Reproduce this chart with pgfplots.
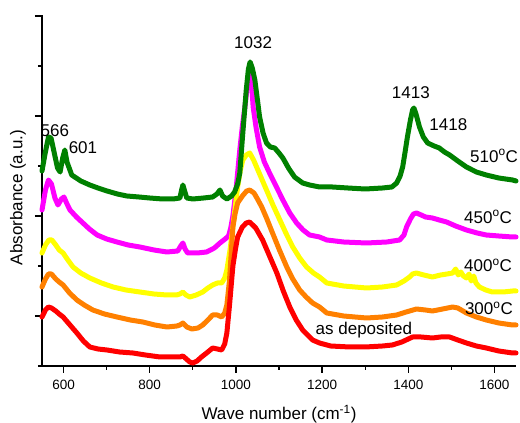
\documentclass[border=0pt]{standalone}
\usepackage{pgfplots}
\pgfplotsset{compat=1.18}
\usepackage{fontspec}
\setmainfont{Liberation Sans}

\definecolor{c510}{RGB}{0,128,0}
\definecolor{c450}{RGB}{255,0,255}
\definecolor{c400}{RGB}{255,255,0}
\definecolor{c300}{RGB}{255,128,0}
\definecolor{cdep}{RGB}{255,0,0}

\newcommand{\lbl}{\fontsize{17}{20}\selectfont}

\begin{document}
\begin{tikzpicture}
\path[use as bounding box] (-42pt,-57pt) rectangle (478pt,366pt);
\begin{axis}[
  at={(0pt,0pt)}, anchor=south west,
  scale only axis, width=474pt, height=351pt,
  xmin=550, xmax=1650, ymin=0, ymax=351,
  axis lines*=left,
  axis line style={line width=1.4pt, -},
  tick align=outside,
  major tick length=7pt, minor tick length=4pt,
  every tick/.style={line width=1.2pt, black},
  xtick={600,800,...,1600},
  minor xtick={700,900,...,1500},
  ytick={50,150,250,350},
  minor ytick={0,100,200,300},
  yticklabels={},
  /pgf/number format/assume math mode=true,
  /pgf/number format/set thousands separator={},
  tick label style={font=\fontsize{13.5}{16}\selectfont},
  x tick label style={yshift=-4pt},
  xlabel={Wave number (cm\textsuperscript{-1})},
  ylabel={Absorbance (a.u.)},
  label style={font=\lbl},
  x label style={at={(axis description cs:0.5,0)}, anchor=center, yshift=-48pt},
  y label style={at={(axis description cs:0,0.48)}, anchor=center, yshift=24pt},
  clip=false,
  every axis plot/.style={line width=5pt, line join=round, line cap=round, no marks},
]
% 450 C
\addplot[c450] coordinates {
(550,156) (558,176) (565,186) (572,182) (580,168) (587,161) (595,167) (601,169) (607,163)
(615,156) (630,149) (645,143) (660,137) (678,131) (700,127) (724,124) (750,121) (777,119)
(810,116) (840,114) (865,115) (872,120) (877,123) (882,117) (888,113) (910,113) (932,114)
(950,118) (963,123) (975,127) (983,130) (988,138) (993,150) (1000,175) (1009,216) (1015,240)
(1021,259) (1027,283) (1032,299) (1036,285) (1040,259) (1047,238) (1055,219) (1066,204)
(1078,193) (1093,180) (1109,166) (1125,153) (1141,143) (1156,136) (1171,131) (1194,129)
(1211,126) (1250,124) (1303,123) (1350,124) (1380,126) (1390,131) (1396,139) (1405,147)
(1412,152) (1419,153) (1430,151) (1440,149) (1456,148) (1472,146) (1489,144) (1510,140)
(1535,136) (1560,133) (1581,131) (1610,130) (1642,129) (1650,129)
};
% 400 C
\addplot[c400] coordinates {
(550,113) (558,121) (566,126) (573,126) (582,121) (590,116) (599,113) (610,106) (622,99)
(640,93) (661,88) (688,83) (715,79) (745,76) (777,74) (810,72) (840,71) (862,71) (870,72)
(877,74) (884,71) (893,69) (908,71) (923,74) (935,78) (946,81) (957,83) (967,83) (974,88)
(979,96) (986,115) (993,139) (999,161) (1004,179) (1010,195) (1016,206) (1024,211) (1032,213)
(1041,206) (1051,196) (1061,186) (1071,176) (1086,161) (1102,146) (1117,132) (1132,119)
(1148,108) (1164,99) (1180,93) (1194,89) (1211,83) (1250,80) (1303,78) (1340,79) (1373,81)
(1390,85) (1403,89) (1410,92) (1419,93) (1436,91) (1456,89) (1475,91) (1490,92) (1503,93)
(1510,97) (1516,91) (1522,94) (1528,90) (1535,88) (1541,92) (1546,85) (1552,90) (1557,83)
(1565,79) (1580,76) (1595,74) (1620,74) (1642,75) (1650,75)
};
% 300 C
\addplot[c300] coordinates {
(550,79) (558,87) (565,92) (572,92) (582,87) (590,84) (599,81) (614,73) (631,66) (648,61)
(668,56) (695,52) (724,49) (755,46) (784,44) (812,41) (840,39) (863,40) (870,41) (877,43)
(886,39) (898,37) (912,38) (923,41) (935,46) (946,51) (957,51) (967,49) (974,53) (979,61)
(985,85) (993,139) (998,152) (1004,163) (1015,170) (1025,175) (1032,176) (1042,173) (1050,167)
(1060,159) (1072,147) (1085,133) (1101,116) (1118,99) (1132,87) (1148,76) (1163,69) (1178,63)
(1194,59) (1211,53) (1250,50) (1303,48) (1340,49) (1373,51) (1395,54) (1419,57) (1440,56)
(1456,55) (1480,57) (1503,59) (1515,58) (1535,53) (1558,49) (1581,46) (1610,43) (1642,41)
(1650,41)
};
% as deposited
\addplot[cdep] coordinates {
(550,49) (558,56) (565,59) (572,58) (582,55) (590,52) (599,49) (615,41) (631,33) (646,25)
(661,19) (680,17) (701,16) (730,14) (761,13) (790,11) (824,9) (850,9) (870,9) (877,10)
(885,7) (893,4) (900,3) (910,5) (920,9) (932,13) (946,18) (957,17) (967,16) (974,22) (979,33)
(985,60) (993,100) (999,117) (1004,129) (1015,139) (1024,143) (1032,144) (1046,138) (1062,126)
(1078,110) (1095,93) (1110,75) (1125,59) (1140,46) (1155,36) (1178,26) (1194,23) (1220,20)
(1264,19) (1300,19) (1340,20) (1363,21) (1385,24) (1400,27) (1410,29) (1430,29) (1456,28)
(1475,29) (1496,29) (1515,26) (1535,23) (1558,20) (1581,18) (1610,15) (1642,13) (1650,13)
};
% 510 C, drawn last so it sits on top at the 1032 band
\addplot[c510] coordinates {
(550,195) (557,212) (565,229) (571,228) (578,214) (586,198) (592,194) (598,208) (603,216) (608,204)
(619,191) (640,185) (661,181) (680,178) (701,175) (725,172) (747,170) (775,169) (800,168)
(830,167) (854,167) (870,168) (874,176) (877,181) (881,175) (886,168) (900,167) (925,168)
(946,169) (956,172) (963,176) (969,170) (979,167) (990,170) (997,174) (1004,182) (1009,193)
(1016,233) (1024,276) (1029,297) (1033,304) (1038,298) (1044,286) (1050,266) (1055,249)
(1063,233) (1071,223) (1080,219) (1090,218) (1100,213) (1109,208) (1122,198) (1136,189)
(1155,183) (1171,181) (1194,179) (1224,179) (1260,178) (1300,177) (1340,178) (1362,179)
(1373,183) (1381,190) (1387,199) (1393,215) (1398,229) (1405,246) (1410,256) (1413,258)
(1418,252) (1426,239) (1435,229) (1445,223) (1460,220) (1472,218) (1484,214) (1496,211)
(1515,205) (1535,199) (1558,194) (1581,191) (1610,188) (1642,186) (1650,185)
};

% peak positions and sample labels
\node[font=\lbl] at (axis cs:580,235) {566};
\node[font=\lbl] at (axis cs:645,218) {601};
\node[font=\lbl] at (axis cs:1040,323.5) {1032};
\node[font=\lbl] at (axis cs:1406,273.5) {1413};
\node[font=\lbl] at (axis cs:1493,241.5) {1418};
\node[font=\lbl, anchor=east, inner xsep=0pt] at (axis cs:1655,210) {510\textsuperscript{o}C};
\node[font=\lbl, anchor=east, inner xsep=0pt] at (axis cs:1641,149) {450\textsuperscript{o}C};
\node[font=\lbl, anchor=east, inner xsep=0pt] at (axis cs:1641,100.5) {400\textsuperscript{o}C};
\node[font=\lbl, anchor=east, inner xsep=0pt] at (axis cs:1643,57.5) {300\textsuperscript{o}C};
\node[font=\lbl] at (axis cs:1297,35.5) {as deposited};
\end{axis}
\end{tikzpicture}
\end{document}
